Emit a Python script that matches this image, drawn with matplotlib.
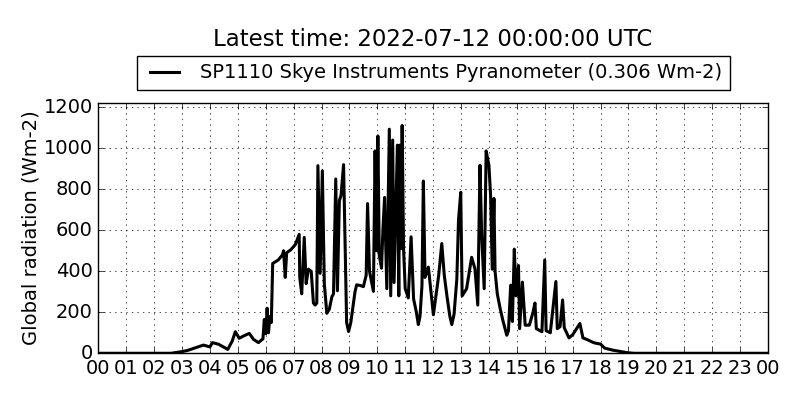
import matplotlib
matplotlib.use('Agg')
import matplotlib.pyplot as plt

# hour of day and global radiation (Wm-2)
hours = [0.0, 2.6, 3.0, 3.2, 3.48, 3.77, 4.0, 4.09, 4.31, 4.64, 4.8, 4.91,
         5.05, 5.2, 5.41, 5.56, 5.74, 5.85, 5.9, 5.95, 6.0, 6.05, 6.1, 6.15,
         6.2, 6.25, 6.45, 6.6, 6.64, 6.7, 6.75, 6.9, 7.06, 7.2, 7.22, 7.29,
         7.38, 7.45, 7.53, 7.63, 7.71, 7.77, 7.83, 7.87, 7.95, 8.03, 8.1, 8.19,
         8.28, 8.37, 8.43, 8.51, 8.57, 8.64, 8.7, 8.79, 8.85, 8.9, 8.97, 9.05,
         9.12, 9.2, 9.26, 9.4, 9.5, 9.6,
         9.65, 9.72, 9.86, 9.92, 9.97, 10.02, 10.07, 10.15, 10.2, 10.26, 10.34,
         10.43, 10.48, 10.55, 10.6, 10.72, 10.77, 10.8, 10.85, 10.89, 10.94,
         11.0, 11.11, 11.21, 11.3, 11.4, 11.47, 11.53, 11.6, 11.65, 11.71,
         11.83, 12.01, 12.2, 12.31, 12.4, 12.5, 12.6, 12.67, 12.75, 12.85,
         12.91, 12.99, 13.04, 13.2, 13.38,
         13.5, 13.6, 13.68, 13.74, 13.83, 13.9, 14.0, 14.06, 14.12, 14.18,
         14.22, 14.3, 14.4, 14.5, 14.64, 14.7, 14.78, 14.84, 14.91, 14.97, 15.06,
         15.1, 15.2, 15.3, 15.45, 15.58, 15.65, 15.7, 15.9, 16.0, 16.05,
         16.2, 16.4, 16.45, 16.55, 16.64, 16.7, 16.87, 17.0, 17.26, 17.37,
         17.55, 17.7, 17.8, 18.0, 18.15, 18.45, 18.95, 19.2, 24.0]
radiation = [0, 0, 8, 14, 27, 40, 31, 52, 44, 19, 60, 105,
             73, 84, 97, 68, 52, 65, 70, 165, 95, 220, 100, 180,
             150, 438, 455, 480, 500, 370, 490, 505, 530, 580, 370, 290,
             565, 340, 410, 400, 245, 235, 245, 915, 390, 890, 340, 195,
             215, 275, 290, 850, 305, 745, 770, 920, 500, 150, 106, 150,
             220, 300, 334, 330, 325, 380,
             730, 400, 302, 987, 500, 1060, 478, 415, 600, 760, 315,
             1093, 280, 1040, 345, 1015, 280, 1015, 510, 1111, 510,
             315, 270, 568, 265, 200, 140, 180, 330, 840, 370,
             420, 188, 380, 535, 380, 275, 180, 140, 190, 362,
             650, 785, 280, 315, 468,
             412, 235, 917, 578, 315, 987, 917, 770, 410, 755,
             400, 290, 220, 160, 88, 110, 332, 155, 508, 280, 428,
             120, 347, 137, 137, 200, 245, 120, 105, 455, 110,
             100, 350, 120, 130, 260, 125, 75, 90, 145, 75,
             65, 55, 50, 45, 25, 15, 3, 0, 0]

tick_hours = list(range(25))
tick_labels = ['%02d' % (h % 24) for h in tick_hours]

plt.style.use('classic')
plt.rcParams['font.size'] = 14
fig = plt.figure(figsize=(8, 4), dpi=100, facecolor='white')
ax = fig.add_axes([0.1229, 0.1168, 0.837, 0.6265])

ax.plot(hours, radiation, color='black', linewidth=2.2,
        label='SP1110 Skye Instruments Pyranometer (0.306 Wm-2)')
ax.set_xlim(0, 24)
ax.set_ylim(0, 1.1 * max(radiation))
ax.set_xticks(tick_hours)
ax.set_xticklabels(tick_labels, fontsize=14)
ax.set_yticks(range(0, 1201, 200))
ax.tick_params(labelsize=14)
ax.set_ylabel('Global radiation (Wm-2)', fontsize=14, labelpad=2)
ax.grid(True)

ax.legend(loc='lower center', bbox_to_anchor=(0.5, 1.05), ncol=1,
          fontsize=14, borderaxespad=0, handlelength=2.1, handletextpad=0.75)
ax.set_title('Latest time: 2022-07-12 00:00:00 UTC', y=1.225, pad=0,
             fontsize=16.5)

fig.savefig('out.png', dpi=100, facecolor='white')
